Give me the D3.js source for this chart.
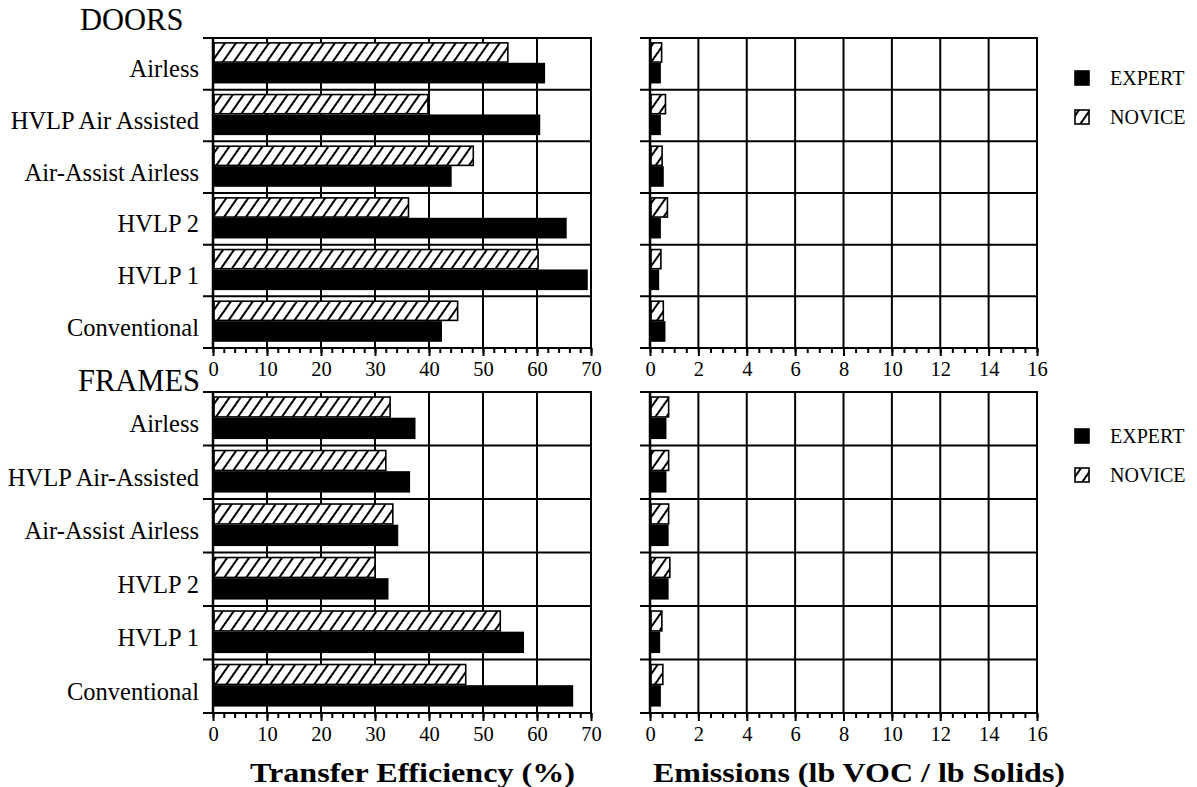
<!DOCTYPE html>
<html>
<head>
<meta charset="utf-8">
<script src="https://cdn.jsdelivr.net/npm/d3@7"></script>
<style>
  body { margin: 0; background: #fff; }
  svg { font-family: "Liberation Serif", "Times New Roman", serif; }
</style>
</head>
<body>
<div id="chart"></div>
<script>
var svgWidth = 1197;
var svgHeight = 787;

// Data
var doorCategories = ["Airless", "HVLP Air Assisted", "Air-Assist Airless", "HVLP 2", "HVLP 1", "Conventional"];
var frameCategories = ["Airless", "HVLP Air-Assisted", "Air-Assist Airless", "HVLP 2", "HVLP 1", "Conventional"];
var seriesNames = ["NOVICE", "EXPERT"];

var doorsTeNovice = [54.6, 39.8, 48.2, 36.2, 60.2, 45.3];
var doorsTeExpert = [61.5, 60.6, 44.2, 65.5, 69.4, 42.4];
var doorsEmNovice = [0.48, 0.64, 0.50, 0.72, 0.45, 0.55];
var doorsEmExpert = [0.45, 0.45, 0.57, 0.45, 0.38, 0.64];

var framesTeNovice = [32.8, 32.0, 33.3, 30.0, 53.2, 46.8];
var framesTeExpert = [37.5, 36.5, 34.3, 32.5, 57.6, 66.7];
var framesEmNovice = [0.77, 0.77, 0.77, 0.82, 0.49, 0.53];
var framesEmExpert = [0.68, 0.68, 0.77, 0.77, 0.42, 0.45];

var teTicks = [0, 10, 20, 30, 40, 50, 60, 70];
var emTicks = [0, 2, 4, 6, 8, 10, 12, 14, 16];

var svg = d3.select("#chart")
  .append("svg")
  .attr("width", svgWidth)
  .attr("height", svgHeight);

// hatch pattern for novice bars
var defs = svg.append("defs");
var pat = defs.append("pattern")
  .attr("id", "hatch")
  .attr("patternUnits", "userSpaceOnUse")
  .attr("width", 9)
  .attr("height", 9)
  .attr("patternTransform", "rotate(35)");
pat.append("rect").attr("width", 9).attr("height", 9).attr("fill", "#fff");
pat.append("line")
  .attr("x1", 2).attr("y1", 0).attr("x2", 2).attr("y2", 9)
  .attr("stroke", "#000").attr("stroke-width", 2);

// scales
var xTe = d3.scaleLinear().domain([0, 70]).range([213, 591]);
var xEm = d3.scaleLinear().domain([0, 16]).range([650, 1037]);
var yDoors = d3.scaleBand().domain(doorCategories).range([38, 348]);
var yFrames = d3.scaleBand().domain(frameCategories).range([392, 713]);

function drawPanel(x, y, ticks, minorStep, novice, expert, showLabels) {
  var g = svg.append("g");
  var x0 = x.range()[0], x1 = x.range()[1];
  var y0 = y.range()[0], y1 = y.range()[1];
  var bw = y.bandwidth();

  // vertical grid
  g.selectAll(".vgrid")
    .data(ticks)
    .enter()
    .append("line")
    .attr("x1", d => x(d)).attr("x2", d => x(d))
    .attr("y1", y0).attr("y2", y1)
    .attr("stroke", "#000").attr("stroke-width", 2);

  // horizontal grid at category boundaries (with outward ticks)
  var bounds = y.domain().map(d => y(d)).concat([y1]);
  g.selectAll(".hgrid")
    .data(bounds)
    .enter()
    .append("line")
    .attr("x1", x0 - 10).attr("x2", x1 + 1)
    .attr("y1", d => d).attr("y2", d => d)
    .attr("stroke", "#000").attr("stroke-width", 2);

  // bars
  var sub = d3.scaleBand().domain(seriesNames).range([bw * 0.08, bw * 0.88]);
  var rows = y.domain().map((c, i) => ({ cat: c, NOVICE: novice[i], EXPERT: expert[i] }));

  g.selectAll(".expert")
    .data(rows)
    .enter()
    .append("rect")
    .attr("x", x(0))
    .attr("y", d => y(d.cat) + sub("EXPERT"))
    .attr("width", d => x(d.EXPERT) - x(0))
    .attr("height", sub.bandwidth())
    .attr("fill", "#000");

  g.selectAll(".novice")
    .data(rows)
    .enter()
    .append("rect")
    .attr("x", x(0) + 1)
    .attr("y", d => y(d.cat) + sub("NOVICE") + 0.75)
    .attr("width", d => x(d.NOVICE) - x(0) - 1)
    .attr("height", sub.bandwidth() - 1.5)
    .attr("fill", "url(#hatch)")
    .attr("stroke", "#000")
    .attr("stroke-width", 1.6);

  // left axis line
  g.append("line")
    .attr("x1", x0).attr("x2", x0).attr("y1", y0).attr("y2", y1)
    .attr("stroke", "#000").attr("stroke-width", 2.5);

  // bottom axis: minor then major ticks
  var minor = d3.range(0, x.domain()[1] + 1e-9, minorStep);
  var minorAxis = svg.append("g")
    .attr("transform", `translate(0, ${y1})`)
    .call(d3.axisBottom(x).tickValues(minor).tickSize(5).tickFormat(""));
  minorAxis.select(".domain").remove();
  minorAxis.selectAll("line").attr("stroke-width", 2);

  var majorAxis = svg.append("g")
    .attr("transform", `translate(0, ${y1})`)
    .call(d3.axisBottom(x).tickValues(ticks).tickSize(8).tickPadding(5).tickFormat(d3.format("d")));
  majorAxis.select(".domain").remove();
  majorAxis.selectAll("line").attr("stroke-width", 2);
  majorAxis.selectAll("text")
    .attr("font-family", "Liberation Serif, Times New Roman, serif")
    .attr("font-size", 20.5)
    .attr("fill", "#000");

  if (showLabels) {
    g.selectAll(".cat")
      .data(y.domain())
      .enter()
      .append("text")
      .attr("x", 199)
      .attr("y", d => y(d) + bw / 2 + 5)
      .attr("dy", "0.35em")
      .attr("text-anchor", "end")
      .attr("font-size", 24.5)
      .text(d => d);
  }
}

drawPanel(xTe, yDoors, teTicks, 2, doorsTeNovice, doorsTeExpert, true);
drawPanel(xEm, yDoors, emTicks, 0.5, doorsEmNovice, doorsEmExpert, false);
drawPanel(xTe, yFrames, teTicks, 2, framesTeNovice, framesTeExpert, true);
drawPanel(xEm, yFrames, emTicks, 0.5, framesEmNovice, framesEmExpert, false);

// panel titles
svg.append("text").attr("x", 80).attr("y", 30).attr("font-size", 30.5).text("DOORS");
svg.append("text").attr("x", 78).attr("y", 391).attr("font-size", 30.5).text("FRAMES");

// legends
function legend(cy) {
  var items = [{ name: "EXPERT", fill: "#000", y: cy }, { name: "NOVICE", fill: "url(#hatch)", y: cy + 39 }];
  var lg = svg.append("g");
  lg.selectAll("rect")
    .data(items)
    .enter()
    .append("rect")
    .attr("x", 1075).attr("y", d => d.y - 7)
    .attr("width", 14).attr("height", 14)
    .attr("fill", d => d.fill)
    .attr("stroke", "#000").attr("stroke-width", 1.6);
  lg.selectAll("text")
    .data(items)
    .enter()
    .append("text")
    .attr("x", 1110).attr("y", d => d.y)
    .attr("dy", "0.35em")
    .attr("font-size", 20)
    .text(d => d.name);
}
legend(78);
legend(436);

// axis titles
svg.append("text")
  .attr("x", 250).attr("y", 782)
  .attr("font-size", 28).attr("font-weight", "bold")
  .attr("textLength", 325).attr("lengthAdjust", "spacingAndGlyphs")
  .text("Transfer Efficiency (%)");

svg.append("text")
  .attr("x", 653).attr("y", 782)
  .attr("font-size", 28).attr("font-weight", "bold")
  .attr("textLength", 412).attr("lengthAdjust", "spacingAndGlyphs")
  .text("Emissions (lb VOC / lb Solids)");
</script>
</body>
</html>
